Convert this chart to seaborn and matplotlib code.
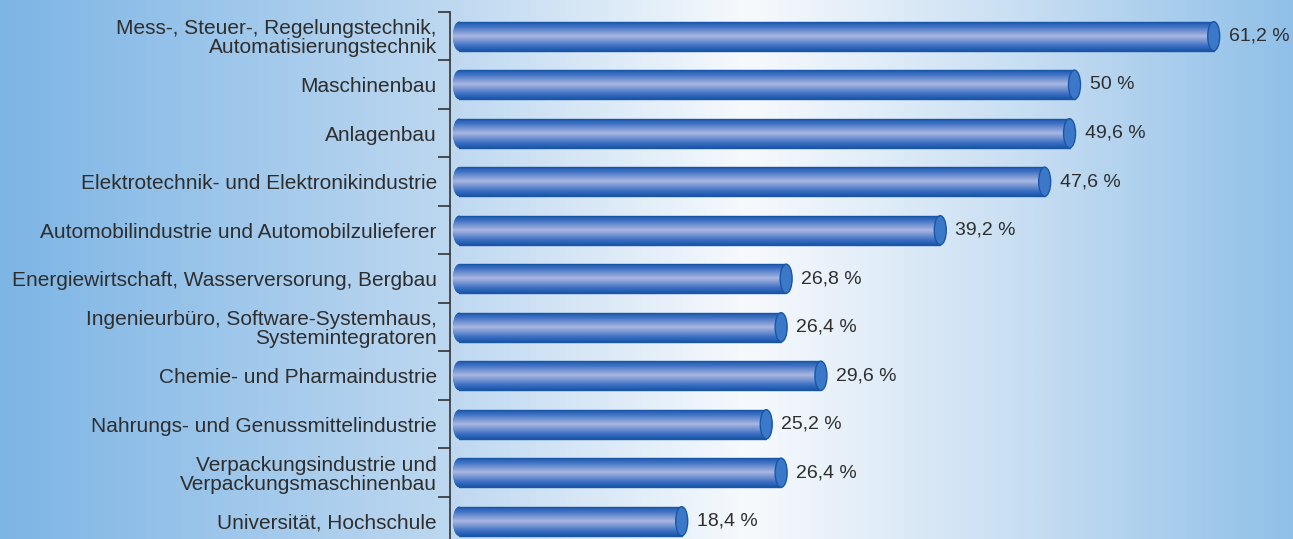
import numpy as np
import pandas as pd
import matplotlib
matplotlib.use("Agg")
import matplotlib.pyplot as plt
import seaborn as sns
from matplotlib.colors import LinearSegmentedColormap
from matplotlib.patches import Ellipse

# --- data -----------------------------------------------------------------
categories = [
    "Mess-, Steuer-, Regelungstechnik,\nAutomatisierungstechnik",
    "Maschinenbau",
    "Anlagenbau",
    "Elektrotechnik- und Elektronikindustrie",
    "Automobilindustrie und Automobilzulieferer",
    "Energiewirtschaft, Wasserversorung, Bergbau",
    "Ingenieurbüro, Software-Systemhaus,\nSystemintegratoren",
    "Chemie- und Pharmaindustrie",
    "Nahrungs- und Genussmittelindustrie",
    "Verpackungsindustrie und\nVerpackungsmaschinenbau",
    "Universität, Hochschule",
]
values = [61.2, 50.0, 49.6, 47.6, 39.2, 26.8, 26.4, 29.6, 25.2, 26.4, 18.4]
value_labels = ["61,2 %", "50 %", "49,6 %", "47,6 %", "39,2 %", "26,8 %",
                "26,4 %", "29,6 %", "25,2 %", "26,4 %", "18,4 %"]

df = pd.DataFrame({"branche": categories, "anteil": values})

sns.set_theme(style="white")
plt.rcParams["font.family"] = ["Liberation Sans", "DejaVu Sans"]
text_col = "#2e2e2e"

W, H = 1293, 539
fig = plt.figure(figsize=(W / 100, H / 100), dpi=100)

# background gradient (light blue -> white -> light blue)
bg = fig.add_axes([0, 0, 1, 1], zorder=-10)
bg_cmap = LinearSegmentedColormap.from_list(
    "bg", [(0.0, "#7db5e5"), (0.34, "#bcd7f0"), (0.58, "#f7fafd"),
           (0.80, "#c6ddf2"), (1.0, "#90c0e8")])
bg.imshow(np.linspace(0, 1, 512)[None, :], cmap=bg_cmap, aspect="auto",
          extent=[0, 1, 0, 1])
bg.set_axis_off()

# main axes: spine at x=450px, row boundaries from y=12px, 48.5px per row
left = 450 / W
top = 1 - 12 / H
height = 11 * 48.5 / H
ax = fig.add_axes([left, top - height, 1 - left, height])
ax.patch.set_alpha(0)

bar_h = 0.6
sns.barplot(data=df, y="branche", x="anteil", orient="h", color="#2a62b8",
            width=bar_h, saturation=1, ax=ax, zorder=2)

px_per_unit = 12.43
x0_px = 459 - 450
xmin = -x0_px / px_per_unit
xmax = xmin + (W - 450) / px_per_unit
hw = 6 / px_per_unit  # half width of the cylinder ends

bar_cmap = LinearSegmentedColormap.from_list(
    "bar", [(0.0, "#1a56a8"), (0.16, "#3a6ec2"), (0.5, "#aab7e2"),
            (0.84, "#3a6ec2"), (1.0, "#1a56a8")])
grad = np.linspace(0, 1, 64)[:, None]

for patch, v, lab in zip(ax.patches, values, value_labels):
    y0 = patch.get_y()
    h = patch.get_height()
    yc = y0 + h / 2
    patch.set_width(v - hw)
    patch.set_edgecolor("none")
    # rounded left end
    lend = Ellipse((0, yc), 2 * hw, h, facecolor="#2a62b8", edgecolor="none",
                   zorder=1.9)
    ax.add_patch(lend)
    for shape in (patch, lend):
        im = ax.imshow(grad, cmap=bar_cmap, aspect="auto",
                       extent=[-hw, v, y0 + h, y0], zorder=2.1)
        im.set_clip_path(shape)
    # outline
    ax.plot([0, v - hw], [y0, y0], color="#1a56a8", lw=1, zorder=2.2)
    ax.plot([0, v - hw], [y0 + h, y0 + h], color="#1a56a8", lw=1, zorder=2.2)
    # end cap
    ax.add_patch(Ellipse((v - hw, yc), 2 * hw, h, facecolor="#3c78c8",
                         edgecolor="#1a56a8", lw=1, zorder=2.3))
    ax.annotate(lab, (v, yc), xytext=(6.5, 0), textcoords="offset points",
                ha="left", va="center", fontsize=14, color=text_col)

ax.set_xlim(xmin, xmax)
ax.set_ylim(len(categories) - 0.5, -0.5)
ax.set_xlabel("")
ax.set_ylabel("")
ax.set_xticks([])

# labels on major ticks (no marks), boundary marks on minor ticks
ax.tick_params(axis="y", which="major", length=0, pad=9.5,
               labelsize=15, labelcolor=text_col)
ax.set_yticks(np.arange(-0.5, len(categories), 1), minor=True)
ax.tick_params(axis="y", which="minor", left=True, length=9, width=1.2,
               color="#333333")
for lbl in ax.get_yticklabels():
    lbl.set_horizontalalignment("right")
    lbl.set_linespacing(1.0)

for side in ("top", "right", "bottom"):
    ax.spines[side].set_visible(False)
ax.spines["left"].set_color("#333333")
ax.spines["left"].set_linewidth(1.2)

fig.savefig("out.png", dpi=100)
